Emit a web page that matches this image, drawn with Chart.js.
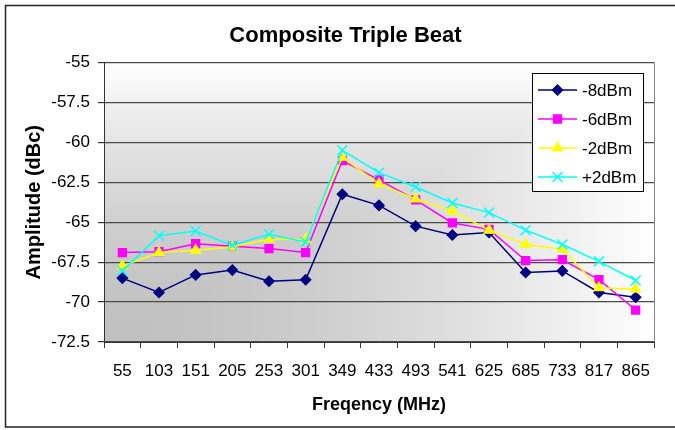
<!DOCTYPE html>
<html>
<head>
<meta charset="utf-8">
<script src="https://cdn.jsdelivr.net/npm/chart.js@4/dist/chart.umd.min.js"></script>
<style>
  html, body { margin: 0; padding: 0; background: #fff; }
  canvas { display: block; }
</style>
</head>
<body>
<canvas id="ctbChart" width="675" height="430"></canvas>
<script>
// data
const freqs = ['55', '103', '151', '205', '253', '301', '349', '433', '493', '541', '625', '685', '733', '817', '865'];
const minus8 = [-68.5, -69.4, -68.3, -68.0, -68.7, -68.6, -63.25, -63.95, -65.25, -65.8, -65.65, -68.15, -68.05, -69.4, -69.7];
const minus6 = [-66.9, -66.85, -66.35, -66.5, -66.65, -66.9, -61.15, -62.35, -63.6, -65.05, -65.45, -67.4, -67.35, -68.6, -70.5];
const minus2 = [-67.75, -66.9, -66.75, -66.55, -66.05, -66.1, -60.95, -62.6, -63.55, -64.3, -65.5, -66.4, -66.7, -69.1, -69.2];
const plus2 = [-68.05, -65.85, -65.55, -66.45, -65.75, -66.25, -60.5, -61.9, -62.8, -63.8, -64.4, -65.5, -66.4, -67.45, -68.65];
const yTicks = [-55, -57.5, -60, -62.5, -65, -67.5, -70, -72.5];

const FONT = "Arial, 'Liberation Sans', sans-serif";

// corner gradient behind the plot (gray bottom-left -> white)
const plotBg = {
  id: 'plotBg',
  beforeDraw(chart) {
    const a = chart.chartArea, ctx = chart.ctx;
    const w = Math.round(a.right - a.left), h = Math.round(a.bottom - a.top);
    const off = document.createElement('canvas');
    off.width = w; off.height = h;
    const octx = off.getContext('2d');
    const img = octx.createImageData(w, h);
    for (let y = 0; y < h; y++) {
      const v = (h - 1 - y) / (h - 1);
      for (let x = 0; x < w; x++) {
        const u = x / (w - 1);
        const t = Math.pow(Math.max(u, v), 1.6);
        const c = Math.round(192 + 63 * t);
        const k = (y * w + x) * 4;
        img.data[k] = c; img.data[k + 1] = c; img.data[k + 2] = c; img.data[k + 3] = 255;
      }
    }
    octx.putImageData(img, 0, 0);
    ctx.save();
    ctx.drawImage(off, a.left, a.top);
    ctx.restore();
  },
  afterDraw(chart) {
    const a = chart.chartArea, ctx = chart.ctx;
    ctx.save();
    // right edge of plot
    ctx.strokeStyle = '#888';
    ctx.lineWidth = 1;
    ctx.beginPath();
    ctx.moveTo(a.right + 0.5, a.top);
    ctx.lineTo(a.right + 0.5, a.bottom);
    ctx.stroke();
    // outer frame
    ctx.strokeStyle = '#222';
    ctx.lineWidth = 1.5;
    ctx.strokeRect(5.5, 5.5, 690, 421.5);
    ctx.restore();
  }
};

// boxed legend sitting inside the plot
const boxLegend = {
  id: 'boxLegend',
  afterDatasetsDraw(chart) {
    const ctx = chart.ctx;
    const bx = 532.5, by = 73.5, bw = 111, bh = 118;
    ctx.save();
    ctx.fillStyle = '#fff';
    ctx.fillRect(bx, by, bw, bh);
    ctx.strokeStyle = '#000';
    ctx.lineWidth = 1;
    ctx.strokeRect(bx, by, bw, bh);
    chart.data.datasets.forEach((ds, i) => {
      const y = 90 + i * 29;
      ctx.strokeStyle = ds.borderColor;
      ctx.lineWidth = ds.borderWidth;
      ctx.beginPath();
      ctx.moveTo(538, y);
      ctx.lineTo(577, y);
      ctx.stroke();
      ctx.fillStyle = ds.pointBackgroundColor;
      ctx.strokeStyle = ds.pointBorderColor;
      ctx.lineWidth = ds.pointBorderWidth;
      Chart.helpers.drawPoint(ctx, { pointStyle: ds.pointStyle, radius: ds.pointRadius, borderWidth: ds.pointBorderWidth, rotation: 0 }, 557.5, y);
      ctx.fillStyle = '#000';
      ctx.font = '17px ' + FONT;
      ctx.textAlign = 'left';
      ctx.textBaseline = 'middle';
      ctx.fillText(ds.label, 582, y + 1);
    });
    ctx.restore();
  }
};

function series(label, data, color, style, radius, order) {
  return {
    label: label, data: data, order: order,
    borderColor: color, borderWidth: 1.5,
    pointStyle: style, pointRadius: radius,
    pointBackgroundColor: color, pointBorderColor: color, pointBorderWidth: 1.5,
    tension: 0, fill: false
  };
}

new Chart(document.getElementById('ctbChart').getContext('2d'), {
  type: 'line',
  data: {
    labels: freqs,
    datasets: [
      series('-8dBm', minus8, '#000080', 'rectRot', 5, 3),
      series('-6dBm', minus6, '#FF00FF', 'rect', 5.5, 2),
      series('-2dBm', minus2, '#FFFF00', 'triangle', 5.5, 1),
      series('+2dBm', plus2, '#00FFFF', 'crossRot', 7, 0)
    ]
  },
  options: {
    responsive: false,
    animation: false,
    layout: { padding: { left: 16, right: 0, top: 6, bottom: 5 } },
    plugins: {
      legend: { display: false },
      tooltip: { enabled: false },
      title: {
        display: true,
        text: 'Composite Triple Beat',
        color: '#000',
        font: { family: FONT, size: 22, weight: 'bold' },
        padding: { top: 17, bottom: 13 }
      }
    },
    scales: {
      x: {
        offset: true,
        grid: { offset: true, drawOnChartArea: false, drawTicks: true, tickLength: 6, color: '#333' },
        border: { display: true, color: '#333', width: 1 },
        ticks: { color: '#000', font: { family: FONT, size: 17 }, maxRotation: 0, autoSkip: false, padding: 13 },
        title: { display: true, text: 'Freqency (MHz)', color: '#000', font: { family: FONT, size: 18, weight: 'bold' }, padding: { top: 0, bottom: 9 } },
        afterFit(s) { s.height = 83; }
      },
      y: {
        min: -72.5, max: -55,
        afterBuildTicks(s) { s.ticks = yTicks.map(v => ({ value: v })); },
        grid: { color: '#4a4a4a', lineWidth: 1.2, tickLength: 6, tickColor: '#333' },
        border: { display: true, color: '#333', width: 1 },
        ticks: { color: '#000', font: { family: FONT, size: 17 }, padding: 8, callback: v => String(v) },
        title: { display: true, text: 'Amplitude (dBc)', color: '#000', font: { family: FONT, size: 20, weight: 'bold' }, padding: { top: 6, bottom: 0 } },
        afterFit(s) { s.width = 88; }
      },
      yRight: {
        position: 'right',
        display: true,
        grid: { display: false, drawTicks: false },
        border: { display: false },
        ticks: { display: false },
        afterFit(s) { s.width = 21; }
      }
    }
  },
  plugins: [plotBg, boxLegend]
});
</script>
</body>
</html>
